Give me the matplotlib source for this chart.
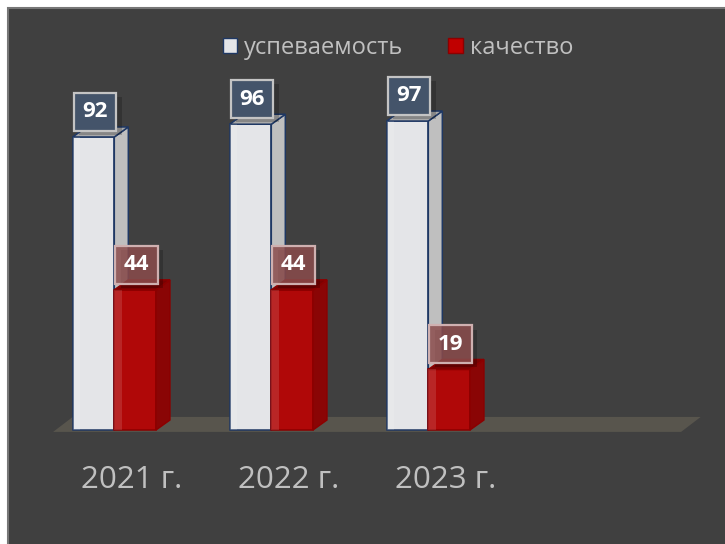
import matplotlib
matplotlib.use("Agg")
import matplotlib.pyplot as plt
import matplotlib.patheffects as pe
from matplotlib.patches import Polygon, Rectangle, Patch

categories = ["2021 г.", "2022 г.", "2023 г."]
series_names = ["успеваемость", "качество"]
uspev = [92, 96, 97]
kach = [44, 44, 19]

FONT = ["Open Sans", "DejaVu Sans"]
plt.rcParams["font.family"] = FONT

W, H = 725, 544
fig = plt.figure(figsize=(W / 100, H / 100), dpi=100)
fig.patch.set_facecolor("white")
fig.patches.append(Rectangle((8 / W, -0.05), (W - 8) / W + 0.05, (H - 8) / H + 0.05,
                             transform=fig.transFigure, facecolor="#404040",
                             edgecolor="#777777", lw=1.5, zorder=-10))

ax = fig.add_axes([0, 0, 1, 1])
ax.set_facecolor("none")
ax.axis("off")
px_x, px_y = 157.0, 3.185
x0_px, y0_px = 72.7, 430.0
ax.set_xlim(-x0_px / px_x, (W - x0_px) / px_x)
ax.set_ylim(-(H - y0_px) / px_y, y0_px / px_y)

dx, dy = 14 / px_x, 10 / px_y
bw = 0.265
n_slots = len(categories) + 1

# floor
ax.add_patch(Polygon([(-0.125, -0.6), (n_slots - 0.125, -0.6),
                      (n_slots, 4.1), (0, 4.1)],
                     closed=True, facecolor="#58554d", edgecolor="none", zorder=1))


def bar3d(xl, h, front, side, top, edge, z):
    ax.bar(xl, h, width=bw, align="edge", color=front, edgecolor=edge, lw=1.1, zorder=z)
    ax.bar(xl, h, width=bw * 0.18, align="edge", color="white", alpha=0.12,
           edgecolor="none", zorder=z + 0.1)
    ax.add_patch(Polygon([(xl + bw, 0), (xl + bw + dx, dy), (xl + bw + dx, h + dy), (xl + bw, h)],
                         closed=True, facecolor=side, edgecolor=edge, lw=1.1, zorder=z))
    ax.add_patch(Polygon([(xl, h), (xl + dx, h + dy), (xl + bw + dx, h + dy), (xl + bw, h)],
                         closed=True, facecolor=top, edgecolor=edge, lw=1.1, zorder=z))


def label(xc, h, txt, fc, ec, z):
    t = ax.text(xc + 0.008, h + 7.9, txt, ha="center", va="center", color="white",
                fontsize=16, fontweight="bold", zorder=z,
                bbox=dict(boxstyle="square,pad=0.38", facecolor=fc, edgecolor=ec, lw=1.6))
    t.get_bbox_patch().set_path_effects(
        [pe.SimplePatchShadow(offset=(4, -3), shadow_rgbFace="black", alpha=0.2), pe.Normal()])


for i, (a, b) in enumerate(zip(uspev, kach)):
    xw = i
    xr = i + bw
    bar3d(xw, a, "#e4e5e8", "#bfbfbf", "#a8a8a8", "#1f3864", 3)
    bar3d(xr, b, "#b00808", "#8a0505", "#7a0202", "#8c0000", 4)
    label(xw + bw / 2, a, str(a), "#44546a", "#c4c4c4", 6)
    label(xr + bw / 2, b, str(b), (0.55, 0.30, 0.30, 0.85), "#cfb0b0", 6)
    ax.text(i + bw + 0.108, -(480 - y0_px) / px_y, categories[i], ha="center", va="center",
            color="#c0c0c0", fontsize=22.5, zorder=5)

handles = [Patch(facecolor="#e4e5e8", edgecolor="#1f3864", lw=1.0),
           Patch(facecolor="#c00000", edgecolor="#8c0000", lw=1.0)]
leg = fig.legend(handles, series_names, loc="center", bbox_to_anchor=(398 / W, 1 - 48 / H),
                 ncol=2, frameon=False, fontsize=17, handlelength=0.6, handleheight=0.6,
                 handletextpad=0.3, columnspacing=1.9, labelcolor="#c0c0c0")

fig.savefig("out.png", dpi=100, facecolor=fig.get_facecolor())
